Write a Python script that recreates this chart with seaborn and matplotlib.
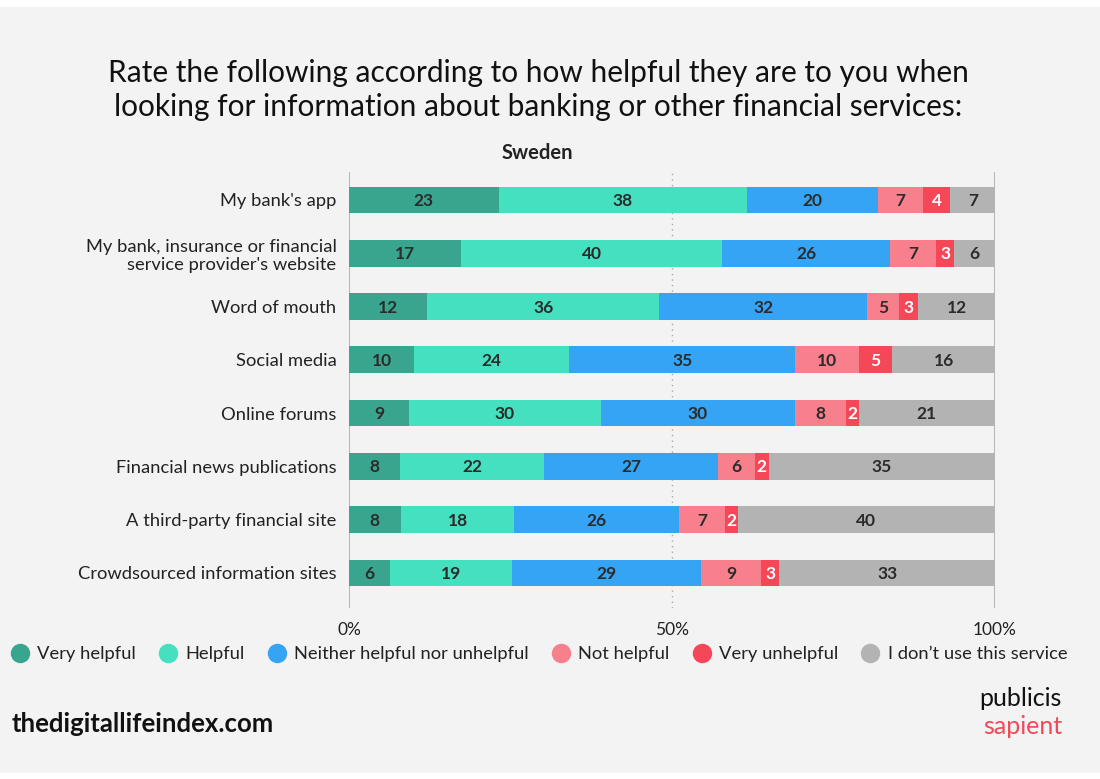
import numpy as np
import pandas as pd
import matplotlib
matplotlib.use("Agg")
import matplotlib.pyplot as plt
from matplotlib.patches import Rectangle
from matplotlib.lines import Line2D
import seaborn as sns

# Survey data (Sweden), percent of respondents per channel
channels = [
    "My bank's app",
    "My bank, insurance or financial\nservice provider's website",
    "Word of mouth",
    "Social media",
    "Online forums",
    "Financial news publications",
    "A third-party financial site",
    "Crowdsourced information sites",
]
very_helpful = [23.2, 17.4, 12.1, 10.1, 9.3, 7.9, 8.0, 6.3]
helpful = [38.4, 40.4, 35.9, 24.0, 29.7, 22.3, 17.6, 18.9]
neither = [20.3, 26.0, 32.2, 35.0, 30.0, 26.9, 25.5, 29.3]
not_helpful = [7.0, 7.1, 5.0, 9.9, 7.9, 5.7, 7.1, 9.3]
very_unhelpful = [4.2, 2.8, 2.9, 5.0, 2.0, 2.2, 2.0, 2.8]
dont_use = [7.0, 6.2, 11.9, 16.1, 21.1, 35.0, 39.6, 33.4]

series_names = ["Very helpful", "Helpful", "Neither helpful nor unhelpful",
                "Not helpful", "Very unhelpful", "I don\u2019t use this service"]
series_values = [very_helpful, helpful, neither, not_helpful, very_unhelpful, dont_use]
series_colors = ["#3aa58e", "#45e0c0", "#36a4f4", "#f7808c", "#f44859", "#b3b3b3"]
label_colors = ["#2b2b2b", "#2b2b2b", "#2b2b2b", "#2b2b2b", "#ffffff", "#2b2b2b"]

FONT = "Lato"
BG = "#f3f3f3"
W, H = 1100, 779

df = pd.DataFrame({"channel": channels})
for name, vals in zip(series_names, series_values):
    df[name] = vals
cum = df[series_names].cumsum(axis=1)

fig = plt.figure(figsize=(W / 100, H / 100), dpi=100, facecolor="white")
fig.patches.append(Rectangle((0, 6 / H), 1, (772 - 6) / H, transform=fig.transFigure,
                             facecolor=BG, edgecolor="none", zorder=-10))

ax_left, ax_right = 349 / W, 995 / W
ax_top, ax_bottom = 172 / H, 608 / H
ax = fig.add_axes([ax_left, 1 - ax_bottom, ax_right - ax_left, ax_bottom - ax_top])
ax.set_facecolor("none")

# Stacked bars: draw cumulative totals from the widest down
for name, color in reversed(list(zip(series_names, series_colors))):
    sns.barplot(x=cum[name], y=df["channel"], orient="h", color=color,
                width=0.5, ax=ax, saturation=1, edgecolor="none", linewidth=0, zorder=2)

# Segment value labels
for i in range(len(channels)):
    start = 0.0
    for name, lc in zip(series_names, label_colors):
        v = df.loc[i, name]
        ax.text(start + v / 2, i + 0.02, f"{round(v):d}", ha="center", va="center",
                fontsize=12.5, fontweight="bold", color=lc, family=FONT, zorder=5)
        start += v

ax.set_xlim(0, 100)
ax.set_ylim(7.66, -0.525)
ax.axvline(50, color="#aaaaaa", lw=1, ls=(0, (1, 3)), zorder=1)
ax.axvline(0, ymin=0, ymax=1, color="#aaaaaa", lw=1.2, zorder=1)
ax.axvline(100, ymin=0, ymax=1, color="#aaaaaa", lw=1.2, zorder=1)
for s in ax.spines.values():
    s.set_visible(False)
ax.set_xlabel("")
ax.set_ylabel("")
ax.set_xticks([0, 50, 100])
ax.set_xticklabels(["0%", "50%", "100%"], family=FONT, fontsize=12.5, color="#222222")
ax.tick_params(axis="x", length=0, pad=10)
ax.tick_params(axis="y", length=0, pad=9)
for lab in ax.get_yticklabels():
    lab.set_family(FONT)
    lab.set_fontsize(13.2)
    lab.set_color("#222222")
    lab.set_linespacing(1.2)

# Titles
fig.text(538 / W, 1 - 90 / H,
         "Rate the following according to how helpful they are to you when\n"
         "looking for information about banking or other financial services:",
         ha="center", va="center", fontsize=21.5, family=FONT, color="#111111",
         linespacing=1.25)
fig.text(537 / W, 1 - 153 / H, "Sweden", ha="center", va="center", fontsize=14.5,
         fontweight="bold", family=FONT, color="#222222")

# Legend
handles = [Line2D([0], [0], marker="o", linestyle="none", markersize=14,
                  markerfacecolor=c, markeredgecolor="none") for c in series_colors]
leg = fig.legend(handles, series_names, loc="center", bbox_to_anchor=(538 / W, 1 - 654 / H),
                 ncol=6, frameon=False, handletextpad=0.35, columnspacing=1.15,
                 prop={"family": FONT, "size": 13.2}, handlelength=1.2)
for t in leg.get_texts():
    t.set_color("#222222")

# Footer
fig.text(12 / W, 1 - 724 / H, "thedigitallifeindex.com", ha="left", va="center",
         fontsize=18.5, fontweight="bold", family=FONT, color="#111111")
fig.text(1062 / W, 1 - 698 / H, "publicis", ha="right", va="center",
         fontsize=18, family=FONT, color="#111111")
fig.text(1062 / W, 1 - 726 / H, "sapient", ha="right", va="center",
         fontsize=18, family=FONT, color="#f44859")

fig.savefig("out.png", dpi=100, facecolor=fig.get_facecolor())
